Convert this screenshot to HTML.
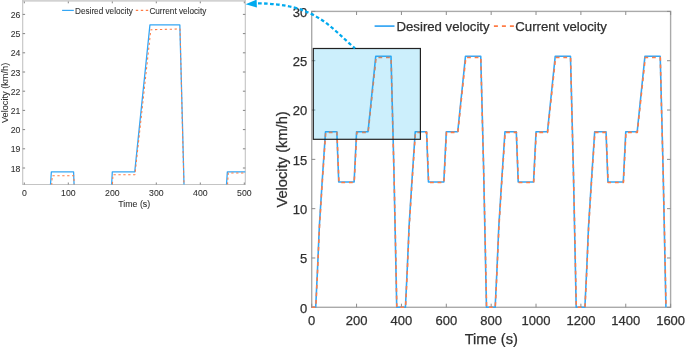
<!DOCTYPE html>
<html><head><meta charset="utf-8"><title>Velocity chart</title>
<style>
html,body{margin:0;padding:0;background:#fff;}
body{width:685px;height:347px;overflow:hidden;font-family:"Liberation Sans",sans-serif;}
svg{display:block;filter:blur(0.35px);}
text{stroke:#2f2f2f;stroke-width:0.25px;}
.sm text,text.sm{stroke-width:0.08px;}
</style></head><body>
<svg width="685" height="347" viewBox="0 0 685 347">
<defs><clipPath id="mc"><rect x="309.5" y="9.4" width="363.1" height="300"/></clipPath><clipPath id="ic"><rect x="22.7" y="0" width="222.6" height="184.5"/></clipPath></defs>
<rect x="311.7" y="11.4" width="358.9" height="295.9" fill="none" stroke="#aaaaaa" stroke-width="1.4"/>
<path d="M311.70 307.3 V303.7 M311.70 11.4 V15 M356.57 307.3 V303.7 M356.57 11.4 V15 M401.43 307.3 V303.7 M401.43 11.4 V15 M446.30 307.3 V303.7 M446.30 11.4 V15 M491.16 307.3 V303.7 M491.16 11.4 V15 M536.03 307.3 V303.7 M536.03 11.4 V15 M580.90 307.3 V303.7 M580.90 11.4 V15 M625.76 307.3 V303.7 M625.76 11.4 V15 M670.63 307.3 V303.7 M670.63 11.4 V15 M311.7 307.30 H315.3 M670.6 307.30 H667 M311.7 257.99 H315.3 M670.6 257.99 H667 M311.7 208.67 H315.3 M670.6 208.67 H667 M311.7 159.36 H315.3 M670.6 159.36 H667 M311.7 110.04 H315.3 M670.6 110.04 H667 M311.7 60.73 H315.3 M670.6 60.73 H667 M311.7 11.41 H315.3 M670.6 11.41 H667" stroke="#8c8c8c" stroke-width="1" fill="none"/>
<g clip-path="url(#mc)" fill="none" stroke-linejoin="round">
<path d="M311.70 307.30 L315.69 307.30 L317.53 268.83 L319.33 226.42 L322.13 182.04 L325.50 131.74 L336.82 131.74 L338.73 182.04 L354.10 182.04 L356.57 131.74 L368.01 131.74 L375.75 56.29 L391.00 56.29 L392.41 110.04 L393.92 170.20 L395.15 230.37 L396.72 307.30 L401.43 307.30 L405.43 307.30 L407.26 268.83 L409.06 226.42 L411.86 182.04 L415.23 131.74 L426.56 131.74 L428.46 182.04 L443.83 182.04 L446.30 131.74 L457.74 131.74 L465.48 56.29 L480.73 56.29 L482.15 110.04 L483.65 170.20 L484.88 230.37 L486.45 307.30 L491.16 307.30 L495.16 307.30 L497.00 268.83 L498.79 226.42 L501.60 182.04 L504.96 131.74 L516.29 131.74 L518.20 182.04 L533.56 182.04 L536.03 131.74 L547.47 131.74 L555.21 56.29 L570.46 56.29 L571.88 110.04 L573.38 170.20 L574.61 230.37 L576.19 307.30 L580.90 307.30 L584.89 307.30 L586.73 268.83 L588.52 226.42 L591.33 182.04 L594.69 131.74 L606.02 131.74 L607.93 182.04 L623.29 182.04 L625.76 131.74 L637.20 131.74 L644.94 56.29 L660.20 56.29 L661.61 110.04 L663.11 170.20 L664.35 230.37 L665.92 307.30" stroke="#35a6f4" stroke-width="1.6"/>
<path d="M311.70 307.30 L315.81 307.30 L317.64 269.33 L319.44 227.41 L322.24 183.03 L325.72 132.33 L336.94 132.33 L338.96 182.53 L354.21 182.53 L356.79 132.33 L368.12 132.33 L376.08 57.57 L391.11 57.57 L392.35 110.04 L393.92 170.20 L395.26 230.37 L396.83 307.30 L401.43 307.30 L405.54 307.30 L407.38 269.33 L409.17 227.41 L411.98 183.03 L415.45 132.33 L426.67 132.33 L428.69 182.53 L443.94 182.53 L446.52 132.33 L457.85 132.33 L465.81 57.57 L480.84 57.57 L482.08 110.04 L483.65 170.20 L484.99 230.37 L486.57 307.30 L491.16 307.30 L495.27 307.30 L497.11 269.33 L498.90 227.41 L501.71 183.03 L505.18 132.33 L516.40 132.33 L518.42 182.53 L533.67 182.53 L536.25 132.33 L547.58 132.33 L555.55 57.57 L570.58 57.57 L571.81 110.04 L573.38 170.20 L574.73 230.37 L576.30 307.30 L580.90 307.30 L585.00 307.30 L586.84 269.33 L588.64 227.41 L591.44 183.03 L594.92 132.33 L606.13 132.33 L608.15 182.53 L623.41 182.53 L625.99 132.33 L637.31 132.33 L645.28 57.57 L660.31 57.57 L661.54 110.04 L663.11 170.20 L664.46 230.37 L666.03 307.30" stroke="#ff7c45" stroke-width="1.6" stroke-dasharray="3.8 3.8"/>
</g>
<rect x="313.3" y="48.5" width="107.1" height="90.8" fill="#00aeef" fill-opacity="0.2" stroke="#222" stroke-width="1.2"/>
<g font-family="Liberation Sans, sans-serif" font-size="13" fill="#2f2f2f">
<text x="311.70" y="325.2" text-anchor="middle">0</text>
<text x="356.57" y="325.2" text-anchor="middle">200</text>
<text x="401.43" y="325.2" text-anchor="middle">400</text>
<text x="446.30" y="325.2" text-anchor="middle">600</text>
<text x="491.16" y="325.2" text-anchor="middle">800</text>
<text x="536.03" y="325.2" text-anchor="middle">1000</text>
<text x="580.90" y="325.2" text-anchor="middle">1200</text>
<text x="625.76" y="325.2" text-anchor="middle">1400</text>
<text x="670.63" y="325.2" text-anchor="middle">1600</text>
<text x="307.2" y="312.70" text-anchor="end">0</text>
<text x="307.2" y="263.38" text-anchor="end">5</text>
<text x="307.2" y="214.07" text-anchor="end">10</text>
<text x="307.2" y="164.76" text-anchor="end">15</text>
<text x="307.2" y="115.44" text-anchor="end">20</text>
<text x="307.2" y="66.13" text-anchor="end">25</text>
<text x="307.2" y="16.81" text-anchor="end">30</text>
</g>
<text x="491.3" y="344.2" text-anchor="middle" font-family="Liberation Sans, sans-serif" font-size="14.7" fill="#2f2f2f">Time (s)</text>
<text transform="translate(287.1 159.4) rotate(-90)" text-anchor="middle" font-family="Liberation Sans, sans-serif" font-size="14.7" fill="#2f2f2f">Velocity (km/h)</text>
<path d="M374.6 26.1 H394.5" stroke="#35a6f4" stroke-width="1.7"/>
<path d="M493.9 26.1 H514" stroke="#ff7c45" stroke-width="1.7" stroke-dasharray="4 4"/>
<g font-family="Liberation Sans, sans-serif" font-size="13.2" fill="#2f2f2f">
<text x="396.5" y="31.3">Desired velocity</text>
<text x="515.3" y="31.3">Current velocity</text>
</g>
<rect x="22.7" y="0" width="222.6" height="1.7" fill="#d2d2d2"/>
<path d="M22.7 0 V184.5 H245.3 V0" fill="none" stroke="#c4c4c4" stroke-width="1.1"/>
<path d="M24.30 184.5 V182.5 M24.30 1.5 V3.3 M68.30 184.5 V182.5 M68.30 1.5 V3.3 M112.30 184.5 V182.5 M112.30 1.5 V3.3 M156.30 184.5 V182.5 M156.30 1.5 V3.3 M200.30 184.5 V182.5 M200.30 1.5 V3.3 M244.30 184.5 V182.5 M244.30 1.5 V3.3 M22.7 168.00 H25.1 M245.3 168.00 H242.9 M22.7 148.80 H25.1 M245.3 148.80 H242.9 M22.7 129.60 H25.1 M245.3 129.60 H242.9 M22.7 110.40 H25.1 M245.3 110.40 H242.9 M22.7 91.20 H25.1 M245.3 91.20 H242.9 M22.7 72.00 H25.1 M245.3 72.00 H242.9 M22.7 52.80 H25.1 M245.3 52.80 H242.9 M22.7 33.60 H25.1 M245.3 33.60 H242.9 M22.7 14.40 H25.1 M245.3 14.40 H242.9" stroke="#777" stroke-width="0.9" fill="none"/>
<g clip-path="url(#ic)" fill="none" stroke-linejoin="round">
<path d="M24.30 513.60 L32.13 513.60 L35.74 438.72 L39.26 356.16 L44.76 269.76 L51.36 171.84 L73.58 171.84 L77.32 269.76 L107.46 269.76 L112.30 171.84 L134.74 171.84 L149.92 24.96 L179.84 24.96 L182.61 129.60 L185.56 246.72 L187.98 363.84 L191.06 513.60 L200.30 513.60 L208.13 513.60 L211.74 438.72 L215.26 356.16 L220.76 269.76 L227.36 171.84 L249.58 171.84" stroke="#35a6f4" stroke-width="1.3"/>
<path d="M24.30 513.60 L33.54 513.60 L36.44 444.48 L52.24 175.68 L73.80 175.68 L77.76 271.68 L107.68 271.68 L112.96 174.72 L134.96 174.72 L150.80 29.76 L180.06 28.99 L182.48 129.60 L185.56 246.72 L188.20 363.84 L191.28 513.60 L209.54 513.60 L212.44 444.48 L228.24 172.99 L253.10 172.99" stroke="#ff7c45" stroke-width="1.05" stroke-dasharray="2.3 2.6"/>
</g>
<g class="sm" font-family="Liberation Sans, sans-serif" font-size="8.7" fill="#2f2f2f">
<text x="24.30" y="196" text-anchor="middle">0</text>
<text x="68.30" y="196" text-anchor="middle">100</text>
<text x="112.30" y="196" text-anchor="middle">200</text>
<text x="156.30" y="196" text-anchor="middle">300</text>
<text x="200.30" y="196" text-anchor="middle">400</text>
<text x="244.30" y="196" text-anchor="middle">500</text>
<text x="20.4" y="171.50" text-anchor="end">18</text>
<text x="20.4" y="152.30" text-anchor="end">19</text>
<text x="20.4" y="133.10" text-anchor="end">20</text>
<text x="20.4" y="113.90" text-anchor="end">21</text>
<text x="20.4" y="94.70" text-anchor="end">22</text>
<text x="20.4" y="75.50" text-anchor="end">23</text>
<text x="20.4" y="56.30" text-anchor="end">24</text>
<text x="20.4" y="37.10" text-anchor="end">25</text>
<text x="20.4" y="17.90" text-anchor="end">26</text>
</g>
<text class="sm" x="134.2" y="207" text-anchor="middle" font-family="Liberation Sans, sans-serif" font-size="8.8" fill="#2f2f2f">Time (s)</text>
<text class="sm" transform="translate(8.3 92.9) rotate(-90)" text-anchor="middle" font-family="Liberation Sans, sans-serif" font-size="9.2" fill="#2f2f2f">Velocity (km/h)</text>
<path d="M62.1 10.4 H73.8" stroke="#35a6f4" stroke-width="1.2"/>
<path d="M135.8 10.4 H148.2" stroke="#ff7c45" stroke-width="1.2" stroke-dasharray="2.4 2.6"/>
<g class="sm" font-family="Liberation Sans, sans-serif" font-size="8.2" fill="#2f2f2f">
<text x="75" y="13.6">Desired velocity</text>
<text x="149.4" y="13.6">Current velocity</text>
</g>
<path d="M258 3.4 C315.08 3.5 329.96 26.93 355 48.4" fill="none" stroke="#00aaef" stroke-width="2.3" stroke-dasharray="3.6 2.4"/>
<path d="M245.6 4.3 L256.6 -0.4 L256.9 7.6 Z" fill="#00aaef"/>
</svg>
</body></html>
